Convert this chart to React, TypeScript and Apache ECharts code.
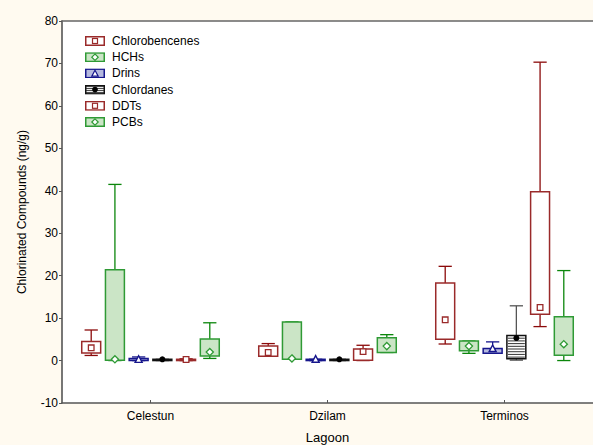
import React, { useEffect, useRef } from 'react';
import * as echarts from 'echarts';

const lagoons = ['Celestun', 'Dzilam', 'Terminos'];
const yMin = -10;
const yMax = 80;
const yInterval = 10;

// each entry: [min, q1, median, q3, max] for Celestun, Dzilam, Terminos
const chlorobencenes = [[1.2, 1.8, 3.0, 4.5, 7.2], [1.0, 1.0, 1.9, 3.4, 4.0], [3.9, 5.0, 9.6, 18.3, 22.2]];
const hchs = [[0, 0.1, 0.3, 21.4, 41.5], [0.3, 0.3, 0.5, 9.1, 9.1], [1.7, 2.3, 3.4, 4.6, 4.6]];
const drins = [[0, 0, 0.25, 0.5, 0.85], [0, 0, 0.3, 0.3, 0.3], [1.7, 1.7, 2.8, 2.85, 4.4]];
const chlordanes = [[0, 0, 0.3, 0.3, 0.3], [0, 0, 0.3, 0.3, 0.3], [0.1, 0.4, 5.3, 5.9, 12.9]];
const ddts = [[0, 0, 0.25, 0.3, 0.4], [0, 0.1, 2.1, 2.75, 3.6], [8.0, 10.9, 12.5, 39.8, 70.3]];
const pcbs = [[0.5, 1.1, 2.0, 5.1, 8.9], [1.9, 1.9, 3.4, 5.4, 6.1], [0, 1.25, 3.85, 10.3, 21.2]];

type Marker = 'square' | 'diamond' | 'triangle' | 'circle';
interface Compound {
  name: string;
  values: number[][];
  stroke: string;
  whisker: string;
  fill: string;
  marker: Marker;
  stripes?: boolean;
}

const RED_BOX = '#9A2A2A';
const RED_W = '#8B0A0A';
const GREEN_BOX = '#2F9A35';
const GREEN_W = '#0B860B';
const GREEN_FILL = '#CBE5C6';
const BLUE = '#16168C';
const BLUE_FILL = '#B5B9DF';

const compounds: Compound[] = [
  { name: 'Chlorobencenes', values: chlorobencenes, stroke: RED_BOX, whisker: RED_W, fill: '#FFFFFF', marker: 'square' },
  { name: 'HCHs', values: hchs, stroke: GREEN_BOX, whisker: GREEN_W, fill: GREEN_FILL, marker: 'diamond' },
  { name: 'Drins', values: drins, stroke: BLUE, whisker: BLUE, fill: BLUE_FILL, marker: 'triangle' },
  { name: 'Chlordanes', values: chlordanes, stroke: '#111111', whisker: '#555555', fill: '#FFFFFF', marker: 'circle', stripes: true },
  { name: 'DDTs', values: ddts, stroke: RED_BOX, whisker: RED_W, fill: '#FFFFFF', marker: 'square' },
  { name: 'PCBs', values: pcbs, stroke: GREEN_BOX, whisker: GREEN_W, fill: GREEN_FILL, marker: 'diamond' },
];

const FONT = "'Liberation Sans', Arial, sans-serif";

function markerSvg(c: Compound, cx: number, cy: number): string {
  const mc = c.stroke;
  switch (c.marker) {
    case 'square':
      return `<rect x='${cx - 2.5}' y='${cy - 2.5}' width='5' height='5' fill='white' stroke='${mc}' stroke-width='1.2'/>`;
    case 'diamond':
      return `<polygon points='${cx},${cy - 3.2} ${cx + 3.2},${cy} ${cx},${cy + 3.2} ${cx - 3.2},${cy}' fill='white' stroke='${mc}' stroke-width='1.2'/>`;
    case 'triangle':
      return `<polygon points='${cx},${cy - 3.2} ${cx + 3.2},${cy + 2.8} ${cx - 3.2},${cy + 2.8}' fill='white' stroke='${mc}' stroke-width='1.2'/>`;
    default:
      return `<circle cx='${cx}' cy='${cy}' r='2.8' fill='black'/>`;
  }
}

function legendIcon(c: Compound): string {
  let stripes = '';
  if (c.stripes) {
    for (let y = 2; y <= 8; y += 2) stripes += `<line x1='1' x2='19' y1='${y}' y2='${y}' stroke='#222' stroke-width='0.9'/>`;
  }
  const svg = `<svg xmlns='http://www.w3.org/2000/svg' width='20' height='10' viewBox='0 0 20 10'><rect x='0.75' y='0.75' width='18.5' height='8.5' fill='${c.fill}' stroke='${c.stroke}' stroke-width='1.5'/>${stripes}${markerSvg(c, 10, 5)}</svg>`;
  return 'image://data:image/svg+xml;charset=utf-8,' + encodeURIComponent(svg);
}

function makeRenderItem(c: Compound, k: number, n: number) {
  return (params: any, api: any) => {
    const cat = api.value(0);
    const band = api.size([1, 0])[0];
    const center = api.coord([cat, 0])[0];
    const step = band * 0.134;
    const w = band * 0.107;
    const cx = center + (k - (n - 1) / 2) * step;
    const capW = w * 0.7;
    const pMin = api.coord([cat, api.value(1)])[1];
    const pQ1 = api.coord([cat, api.value(2)])[1];
    const pMed = api.coord([cat, api.value(3)])[1];
    const pQ3 = api.coord([cat, api.value(4)])[1];
    const pMax = api.coord([cat, api.value(5)])[1];
    const lw = { stroke: c.whisker, lineWidth: 1.3 };
    const children: any[] = [];
    children.push({ type: 'line', shape: { x1: cx, y1: pMax, x2: cx, y2: pQ3 }, style: lw });
    children.push({ type: 'line', shape: { x1: cx, y1: pQ1, x2: cx, y2: pMin }, style: lw });
    children.push({ type: 'line', shape: { x1: cx - capW / 2, y1: pMax, x2: cx + capW / 2, y2: pMax }, style: lw });
    children.push({ type: 'line', shape: { x1: cx - capW / 2, y1: pMin, x2: cx + capW / 2, y2: pMin }, style: lw });
    const top = Math.min(pQ1, pQ3);
    const h = Math.abs(pQ1 - pQ3);
    children.push({
      type: 'rect',
      shape: { x: cx - w / 2, y: top, width: w, height: h },
      style: { fill: c.fill, stroke: c.stroke, lineWidth: 1.5 },
    });
    if (c.stripes && h > 3) {
      for (let y = top + 2.7; y < top + h - 1; y += 2.7) {
        children.push({
          type: 'line',
          shape: { x1: cx - w / 2 + 1, y1: y, x2: cx + w / 2 - 1, y2: y },
          style: { stroke: '#333333', lineWidth: 1 },
        });
      }
    }
    const r = 3.2;
    if (c.marker === 'square') {
      children.push({ type: 'rect', shape: { x: cx - 2.8, y: pMed - 2.8, width: 5.6, height: 5.6 }, style: { fill: '#fff', stroke: c.stroke, lineWidth: 1.3 } });
    } else if (c.marker === 'diamond') {
      children.push({ type: 'polygon', shape: { points: [[cx, pMed - r - 0.4], [cx + r + 0.4, pMed], [cx, pMed + r + 0.4], [cx - r - 0.4, pMed]] }, style: { fill: '#fff', stroke: c.stroke, lineWidth: 1.3 } });
    } else if (c.marker === 'triangle') {
      children.push({ type: 'polygon', shape: { points: [[cx, pMed - r - 0.5], [cx + r + 0.3, pMed + r - 0.3], [cx - r - 0.3, pMed + r - 0.3]] }, style: { fill: '#fff', stroke: c.stroke, lineWidth: 1.4 } });
    } else {
      children.push({ type: 'circle', shape: { cx, cy: pMed, r: 3 }, style: { fill: '#000' } });
    }
    return { type: 'group', children };
  };
}

export default function App() {
  const ref = useRef<HTMLDivElement>(null);
  useEffect(() => {
    if (!ref.current) return;
    const chart = echarts.init(ref.current, undefined, { renderer: 'svg' });
    const n = compounds.length;
    const axisLineStyle = { color: '#555555', width: 1.6 };
    chart.setOption({
      animation: false,
      backgroundColor: '#FFFAF0',
      textStyle: { fontFamily: FONT },
      grid: {
        left: 62,
        right: 0,
        top: 21,
        bottom: 42,
        containLabel: false,
        outerBoundsMode: 'none',
        show: true,
        backgroundColor: '#FFFFFF',
        borderWidth: 0,
      },
      legend: {
        orient: 'vertical',
        left: 80,
        top: 29,
        itemWidth: 20,
        itemHeight: 10,
        itemGap: 2.2,
        selectedMode: false,
        textStyle: { fontFamily: FONT, fontSize: 12, color: '#000', lineHeight: 14, padding: [0, 0, 0, 2] },
        data: compounds.map((c) => ({ name: c.name, icon: legendIcon(c) })),
      },
      xAxis: [
        {
          type: 'category',
          data: lagoons,
          position: 'bottom',
          name: 'Lagoon',
          nameLocation: 'middle',
          nameGap: 28,
          nameTextStyle: { fontFamily: FONT, fontSize: 13, color: '#000' },
          axisLine: { onZero: false, lineStyle: axisLineStyle },
          axisTick: { show: true, inside: true, alignWithLabel: true, length: 3, lineStyle: { color: '#555555' } },
          axisLabel: { fontFamily: FONT, fontSize: 12, color: '#000', margin: 7 },
          splitLine: { show: false },
        },
        {
          type: 'category',
          data: lagoons,
          position: 'top',
          axisLine: { onZero: false, lineStyle: { color: '#666666', width: 1.6 } },
          axisTick: { show: false },
          axisLabel: { show: false },
          splitLine: { show: false },
        },
      ],
      yAxis: {
        type: 'value',
        min: yMin,
        max: yMax,
        interval: yInterval,
        name: 'Chlorinated Compounds (ng/g)',
        nameLocation: 'middle',
        nameGap: 34,
        nameTextStyle: { fontFamily: FONT, fontSize: 12, color: '#000' },
        axisLine: { show: true, onZero: false, lineStyle: axisLineStyle },
        axisTick: { show: true, inside: false, length: 3, lineStyle: { color: '#555555' } },
        axisLabel: { fontFamily: FONT, fontSize: 12, color: '#000', margin: 4 },
        splitLine: { show: false },
      },
      series: compounds.map((c, k) => ({
        type: 'custom',
        name: c.name,
        xAxisIndex: 0,
        yAxisIndex: 0,
        renderItem: makeRenderItem(c, k, n),
        encode: { x: 0, y: [1, 2, 3, 4, 5] },
        itemStyle: { color: c.stroke },
        data: c.values.map((v, i) => [i, ...v]),
      })),
    });
    return () => chart.dispose();
  }, []);
  return <div ref={ref} style={{ position: 'fixed', left: 0, top: 0, width: 593, height: 445 }} />;
}
